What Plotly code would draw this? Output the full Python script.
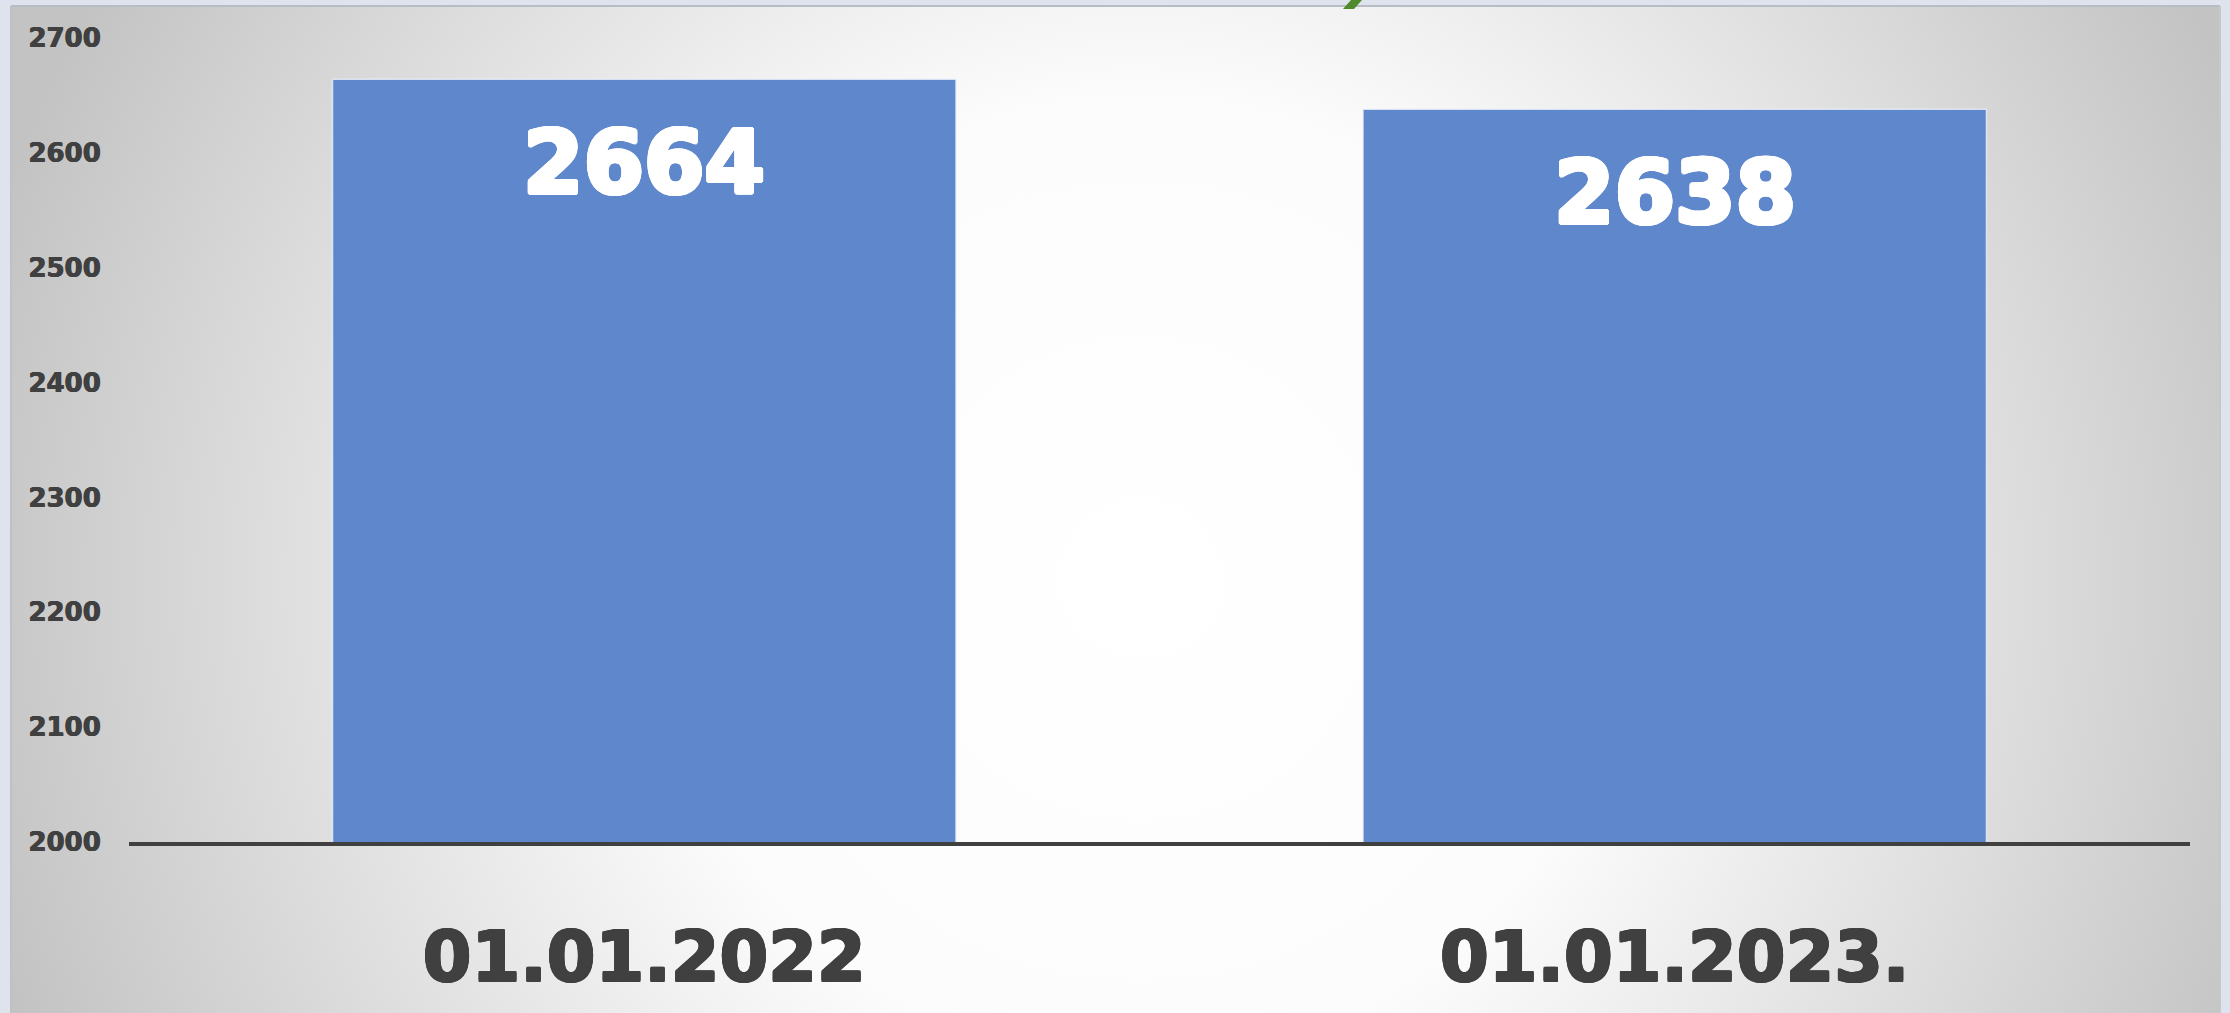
import base64
import plotly.graph_objects as go

categories = ["01.01.2022", "01.01.2023."]
values = [2664, 2638]
y_ticks = [2000, 2100, 2200, 2300, 2400, 2500, 2600, 2700]

W, H = 2230, 1013
ML, MR, MT, MB = 129, 40, 38, 171
PW, PH = W - ML - MR, H - MT - MB

def px_x(x):
    return (x - ML) / PW

def px_y(y):
    return (H - MB - y) / PH

IMG_X0, IMG_Y0 = 11, 6
IMG_W, IMG_H = 2209, 1030
svg = f"""<svg xmlns='http://www.w3.org/2000/svg' width='{IMG_W}' height='{IMG_H}' preserveAspectRatio='none' viewBox='0 0 {IMG_W} {IMG_H}'>
<defs><radialGradient id='g' gradientUnits='userSpaceOnUse' cx='{1140 - IMG_X0}' cy='{580 - IMG_Y0}' r='1200'>
<stop offset='0' stop-color='#ffffff'/>
<stop offset='0.4' stop-color='#fcfcfc'/>
<stop offset='0.74' stop-color='#dcdcdc'/>
<stop offset='1' stop-color='#c3c3c3'/>
</radialGradient></defs>
<rect x='0' y='0' width='{IMG_W}' height='{IMG_H}' fill='url(#g)'/>
</svg>"""
src = "data:image/svg+xml;base64," + base64.b64encode(svg.encode()).decode()

FONT = "DejaVu Sans"


def heavy(color, r):
    offs = []
    for dx in range(-r, r + 1):
        for dy in range(-r, r + 1):
            if (dx or dy) and dx * dx + dy * dy <= r * r + 1:
                offs.append(f"{dx}px {dy}px 0 {color}")
    return ", ".join(offs)


fig = go.Figure()
fig.add_trace(go.Bar(
    x=categories, y=values,
    marker=dict(color="#5f87cb", line=dict(color="rgba(235,240,250,0.8)", width=1.5)),
    width=0.605, hoverinfo="skip",
))

for c, v in zip(categories, values):
    fig.add_annotation(x=c, y=v, text=str(v), showarrow=False, yanchor="middle",
                       yshift=-84, font=dict(family=FONT, size=87, color="white", weight="bold",
                                             shadow=heavy("#ffffff", 2)))

fig.add_layout_image(dict(source=src, xref="paper", yref="paper",
                          x=px_x(IMG_X0), y=px_y(IMG_Y0), sizex=IMG_W / PW, sizey=IMG_H / PH,
                          xanchor="left", yanchor="top", sizing="stretch", layer="below"))

# frame border lines
fig.add_shape(type="line", xref="paper", yref="paper", x0=px_x(11), x1=px_x(2220), y0=px_y(6), y1=px_y(6),
              line=dict(color="#b8bcc4", width=2))
fig.add_shape(type="line", xref="paper", yref="paper", x0=px_x(11), x1=px_x(11), y0=px_y(6), y1=px_y(1030),
              line=dict(color="#c0c0c0", width=2))
fig.add_shape(type="line", xref="paper", yref="paper", x0=px_x(2220), x1=px_x(2220), y0=px_y(6), y1=px_y(1030),
              line=dict(color="#c8c8c8", width=2))
# small green stroke at top
gp = (f"M {px_x(1343)},{px_y(9)} L {px_x(1354)},{px_y(9)} "
      f"L {px_x(1362)},{px_y(0)} L {px_x(1351)},{px_y(0)} Z")
fig.add_shape(type="path", xref="paper", yref="paper", path=gp,
              fillcolor="#4f8a2c", line=dict(width=0))

fig.update_layout(
    width=W, height=H,
    margin=dict(l=ML, r=MR, t=MT, b=MB, pad=0),
    paper_bgcolor="#dfe3ed",
    plot_bgcolor="rgba(0,0,0,0)",
    showlegend=False,
    bargap=0.395,
    xaxis=dict(
        showgrid=False, showline=True, linecolor="#404040", linewidth=4,
        ticks="outside", ticklen=51, tickcolor="rgba(0,0,0,0)",
        tickfont=dict(family=FONT, size=70, color="#404040", weight="bold",
                      shadow=heavy("#404040", 1)),
        fixedrange=True,
    ),
    yaxis=dict(
        range=[2000, 2700], tickvals=y_ticks, showgrid=False, showline=False, zeroline=False,
        ticks="outside", ticklen=22, tickcolor="rgba(0,0,0,0)",
        tickfont=dict(family=FONT, size=26, color="#404040", weight="bold",
                      shadow="0.5px 0 0 #404040, -0.5px 0 0 #404040"),
        fixedrange=True,
    ),
)

fig.write_html("out.html", config={"displayModeBar": False},
               post_script="document.body.style.margin='0';document.body.style.overflow='hidden';")
